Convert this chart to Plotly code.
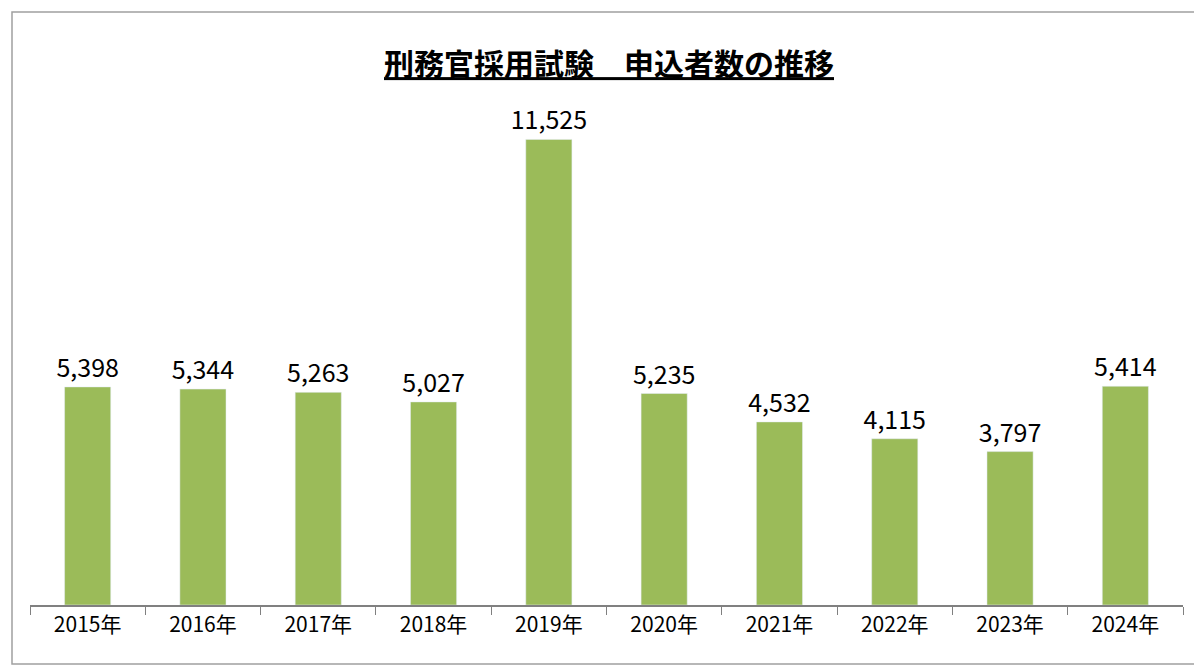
import plotly.graph_objects as go

years = ["2015年", "2016年", "2017年", "2018年", "2019年",
         "2020年", "2021年", "2022年", "2023年", "2024年"]
applicants = [5398, 5344, 5263, 5027, 11525, 5235, 4532, 4115, 3797, 5414]

fig = go.Figure(go.Bar(
    x=years,
    y=applicants,
    marker_color="#9bbb59",
    width=0.4,
    text=[f"{v:,}" for v in applicants],
    textposition="outside",
    constraintext="none",
    textfont=dict(size=25, color="#000000"),
    cliponaxis=False,
))

L, R, T, B = 22, 27, 92, 69
pw, ph = 1202 - L - R, 666 - T - B

fig.update_layout(
    width=1202, height=666,
    margin=dict(l=L, r=R, t=T, b=B),
    paper_bgcolor="white", plot_bgcolor="white",
    font=dict(family="Noto Sans CJK JP, Noto Sans, sans-serif", color="#000000"),
    title=dict(text="<u><b>刑務官採用試験　申込者数の推移</b></u>", x=0.5, xanchor="center",
               y=0.915, yanchor="middle", font=dict(size=30)),
    showlegend=False,
    xaxis=dict(showline=True, linecolor="#808080", linewidth=1.5,
               ticks="outside", tickson="boundaries", ticklen=8, tickcolor="#808080",
               tickfont=dict(size=21)),
    yaxis=dict(range=[0, 12500], visible=False, showgrid=False),
    shapes=[dict(type="rect", xref="paper", yref="paper",
                 x0=-(L - 4) / pw, x1=1 + (R - 14) / pw,
                 y0=-(B - 10) / ph, y1=1 + (T - 4) / ph,
                 line=dict(color="#a0a0a0", width=1.5))],
)

fig.write_html("out.html")
